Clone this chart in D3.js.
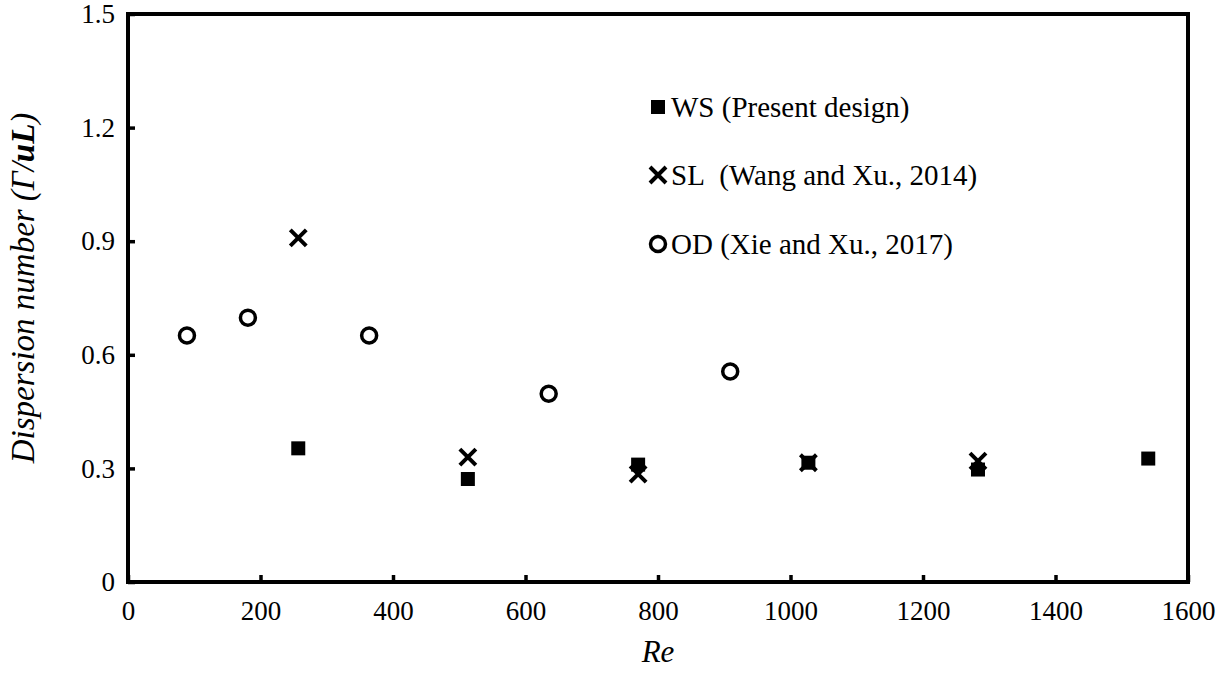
<!DOCTYPE html>
<html>
<head>
<meta charset="utf-8">
<script src="https://cdn.jsdelivr.net/npm/d3@7"></script>
<style>
  html, body { margin: 0; padding: 0; background: #fff; }
  svg text { font-family: "Liberation Serif", "Times New Roman", serif; fill: #000; }
</style>
</head>
<body>
<div id="chart"></div>
<script>
// Reynolds numbers and dispersion numbers
const wsRe = [257, 513, 770, 1027, 1283, 1540];
const wsValues = [0.353, 0.272, 0.31, 0.315, 0.297, 0.326];

const slRe = [257, 513, 770, 1027, 1283];
const slValues = [0.909, 0.33, 0.285, 0.315, 0.319];

const odRe = [89, 181, 364, 635, 909];
const odValues = [0.651, 0.698, 0.651, 0.497, 0.556];

const xTicks = [0, 200, 400, 600, 800, 1000, 1200, 1400, 1600];
const yTicks = [0, 0.3, 0.6, 0.9, 1.2, 1.5];

const legendLabels = [
  'WS (Present design)',
  'SL\u00a0 (Wang and Xu., 2014)',
  'OD (Xie and Xu., 2017)'
];

const width = 1229;
const height = 676;
const margin = { top: 14, right: 41, bottom: 94, left: 128 };
const w = width - margin.left - margin.right;
const h = height - margin.top - margin.bottom;

const svg = d3.select('#chart')
  .append('svg')
  .attr('width', width)
  .attr('height', height);

const g = svg.append('g')
  .attr('transform', `translate(${margin.left},${margin.top})`);

const x = d3.scaleLinear().domain([0, 1600]).range([0, w]);
const y = d3.scaleLinear().domain([0, 1.5]).range([h, 0]);

// axes with inward ticks
const xAxis = g.append('g')
  .attr('transform', `translate(0,${h})`)
  .call(d3.axisBottom(x).tickValues(xTicks).tickFormat(d3.format('d'))
    .tickSizeInner(-7).tickSizeOuter(0).tickPadding(19));

const yAxis = g.append('g')
  .call(d3.axisLeft(y).tickValues(yTicks).tickFormat(d => d === 0 ? '0' : d3.format('.1f')(d))
    .tickSizeInner(-7).tickSizeOuter(0).tickPadding(13));

[xAxis, yAxis].forEach(a => {
  a.attr('font-family', null);
  a.select('.domain').remove();
  a.selectAll('.tick line').attr('stroke', '#000').attr('stroke-width', 3.5);
  a.selectAll('.tick text')
    .style('font-family', '"Liberation Serif", serif')
    .style('font-size', '27px')
    .attr('fill', '#000');
});

// frame
g.append('rect')
  .attr('x', 0).attr('y', 0)
  .attr('width', w).attr('height', h)
  .attr('fill', 'none')
  .attr('stroke', '#000')
  .attr('stroke-width', 4);

// axis titles
svg.append('text')
  .attr('x', margin.left + w / 2)
  .attr('y', 662)
  .attr('text-anchor', 'middle')
  .style('font-size', '31px')
  .style('font-style', 'italic')
  .text('Re');

const yTitle = svg.append('text')
  .attr('transform', `translate(34,288) rotate(-90)`)
  .attr('text-anchor', 'middle')
  .style('font-size', '33px')
  .style('font-style', 'italic');
yTitle.append('tspan').text('Dispersion number (\u0393/');
yTitle.append('tspan').style('font-weight', 'bold').text('uL');
yTitle.append('tspan').text(')');

// marker drawers
const sq = 14;
function drawSquare(sel) {
  sel.append('rect')
    .attr('x', -sq / 2).attr('y', -sq / 2)
    .attr('width', sq).attr('height', sq)
    .attr('fill', '#000');
}
function drawCross(sel) {
  const s = 8;
  sel.append('path')
    .attr('d', `M${-s},${-s}L${s},${s}M${-s},${s}L${s},${-s}`)
    .attr('stroke', '#000')
    .attr('stroke-width', 4)
    .attr('fill', 'none');
}
function drawCircle(sel) {
  sel.append('circle')
    .attr('r', 7.5)
    .attr('fill', '#fff')
    .attr('stroke', '#000')
    .attr('stroke-width', 3.5);
}

function series(reArr, vals, cls, drawer) {
  g.selectAll('.' + cls)
    .data(vals)
    .enter()
    .append('g')
    .attr('class', cls)
    .attr('transform', (d, i) => `translate(${x(reArr[i])},${y(d)})`)
    .each(function () { drawer(d3.select(this)); });
}

series(odRe, odValues, 'od', drawCircle);
series(wsRe, wsValues, 'ws', drawSquare);
series(slRe, slValues, 'sl', drawCross);

// legend
const legendX = 658;
const legendY = [107, 175, 244];
const drawers = [drawSquare, drawCross, drawCircle];
legendLabels.forEach((label, i) => {
  const row = svg.append('g').attr('transform', `translate(${legendX},${legendY[i]})`);
  drawers[i](row);
  row.append('text')
    .attr('x', 13)
    .attr('y', 10)
    .style('font-size', '29px')
    .text(label);
});
</script>
</body>
</html>
